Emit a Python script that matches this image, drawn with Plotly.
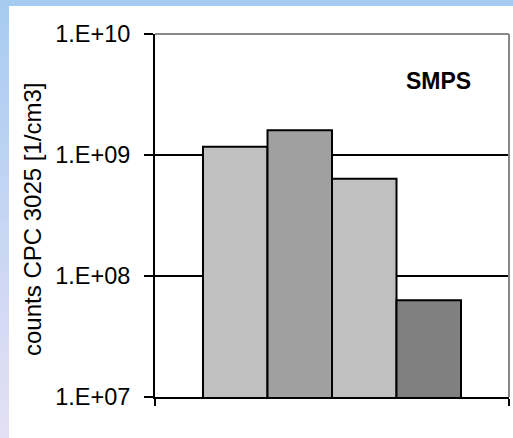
import plotly.graph_objects as go

# Datos (escala logarítmica)
posiciones = [1, 2, 3, 4]
conteos = [1.17e9, 1.60e9, 6.35e8, 6.3e7]
colores = ['#C0C0C0', '#A0A0A0', '#C0C0C0', '#808080']
ticks_y = [1e7, 1e8, 1e9, 1e10]
etiquetas_y = ['1.E+07', '1.E+08', '1.E+09', '1.E+10']

W, H = 513, 438
ML, MR, MT, MB = 155, 4, 34, 41
PW, PH = W - ML - MR, H - MT - MB


def px_x(px):
    return (px - ML) / PW


def px_y(py):
    return 1 - (py - MT) / PH


fig = go.Figure()
fig.add_trace(go.Bar(
    x=posiciones, y=conteos, width=1,
    marker=dict(color=colores, line=dict(color='black', width=2)),
    showlegend=False, hoverinfo='y'
))

# Fondo degradado del borde (azul arriba -> lila abajo)
shapes = []
arriba = (166, 203, 241)
abajo = (228, 224, 245)
n = 40
for i in range(n):
    t = (i + 0.5) / n
    c = tuple(round(arriba[k] + (abajo[k] - arriba[k]) * t) for k in range(3))
    shapes.append(dict(type='rect', xref='paper', yref='paper', layer='below',
                       x0=px_x(0), x1=px_x(9), y0=px_y(H * i / n), y1=px_y(H * (i + 1) / n + 1),
                       fillcolor='rgb(%d,%d,%d)' % c, line=dict(width=0)))
shapes.append(dict(type='rect', xref='paper', yref='paper', layer='below',
                   x0=px_x(0), x1=px_x(W), y0=px_y(0), y1=px_y(6),
                   fillcolor='rgb(%d,%d,%d)' % arriba, line=dict(width=0)))
# borde gris del área de trazado (arriba y derecha)
shapes.append(dict(type='line', xref='paper', yref='paper', x0=0, x1=1, y0=1, y1=1,
                   line=dict(color='#888888', width=2)))
shapes.append(dict(type='line', xref='paper', yref='paper', x0=1, x1=1, y0=0, y1=1,
                   line=dict(color='#888888', width=2)))

fuente = 'Liberation Sans, Arial, sans-serif'

fig.update_layout(
    width=W, height=H,
    margin=dict(l=ML, r=MR, t=MT, b=MB),
    paper_bgcolor='white',
    plot_bgcolor='white',
    shapes=shapes,
    font=dict(family=fuente, size=23, color='black'),
    xaxis=dict(
        range=[-0.244, 5.244], showgrid=False, zeroline=False,
        showline=True, linecolor='black', linewidth=2,
        tickmode='array', tickvals=[-0.243, 5.243], ticktext=['', ''],
        ticks='outside', ticklen=7, tickwidth=1.5, tickcolor='black'
    ),
    yaxis=dict(
        type='log', range=[7, 10],
        tickmode='array', tickvals=ticks_y, ticktext=etiquetas_y,
        showgrid=True, gridcolor='black', gridwidth=2, zeroline=False,
        showline=True, linecolor='black', linewidth=2,
        ticks='outside', ticklen=9, tickwidth=1.5, tickcolor='black',
        ticklabelstandoff=9,
        tickfont=dict(family=fuente, size=23.5, color='black')
    ),
    annotations=[
        dict(text='counts CPC 3025 [1/cm3]', textangle=-90, showarrow=False,
             xref='paper', yref='paper', x=px_x(33), y=px_y(220),
             xanchor='center', yanchor='middle',
             font=dict(family=fuente, size=24, color='black')),
        dict(text='<b>SMPS</b>', showarrow=False,
             xref='paper', yref='paper', x=px_x(438), y=px_y(80.5),
             xanchor='center', yanchor='middle',
             font=dict(family=fuente, size=23, color='black')),
    ],
)

# quitar el margen por defecto del body para que la figura empiece en (0,0)
fig.write_html('out.html', config={'displayModeBar': False},
               post_script="document.body.style.margin='0';")
